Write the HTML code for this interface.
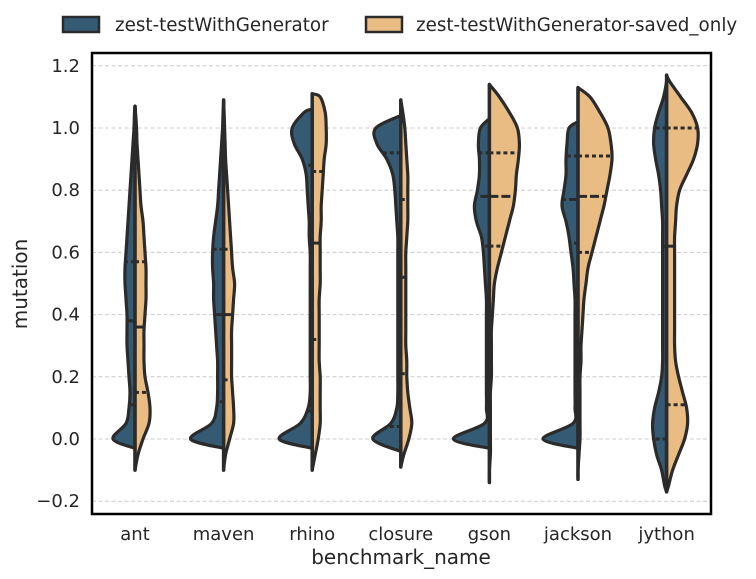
<!DOCTYPE html>
<html><head><meta charset="utf-8"><style>
body{margin:0;background:#fff;}
svg{display:block;font-family:"DejaVu Sans","Liberation Sans",sans-serif;}
</style></head><body>
<svg id="chart" width="756" height="579" viewBox="0 0 756 579">
<g id="grid"></g>
<g id="violins"></g>
<rect x="92" y="53" width="619" height="461" fill="none" stroke="#000" stroke-width="2.5"/>
<g id="yticks"></g>
<g id="xticks"></g>
<text x="401" y="564" font-size="20" fill="#262626" text-anchor="middle">benchmark_name</text>
<text transform="translate(27,284) rotate(-90)" font-size="20" fill="#262626" text-anchor="middle">mutation</text>
<g>
<g>
<rect x="63" y="17" width="36" height="15" fill="#345a74" stroke="#2b2b2b" stroke-width="2.5"/>
<text x="115" y="31" font-size="18.3" fill="#262626">zest-testWithGenerator</text>
</g>
<g>
<rect x="366" y="17" width="36" height="15" fill="#e9bc84" stroke="#2b2b2b" stroke-width="2.5"/>
<text x="416" y="31" font-size="18.3" fill="#262626">zest-testWithGenerator-saved_only</text>
</g>
</g>
</svg>
<script>
const categories = ["ant","maven","rhino","closure","gson","jackson","jython"];
const yTicks = [-0.2,0.0,0.2,0.4,0.6,0.8,1.0,1.2];
const yTickLabels = ["\u22120.2","0.0","0.2","0.4","0.6","0.8","1.0","1.2"];
// density grid values: -0.15 .. 1.15 step 0.05
const densityGrid = [-0.15,-0.10,-0.05,0,0.05,0.10,0.15,0.20,0.25,0.30,0.35,0.40,0.45,0.50,0.55,0.60,0.65,0.70,0.75,0.80,0.85,0.90,0.95,1.00,1.05,1.10,1.15];
const densityGenerator = [
 [0,0,0,22,9,6,5,6,7,8,8,8,9,10,10,9,8,7,6,5,4,3,2,1,0.5,0,0],
 [0,0,0,33,12,7,6,6,6,7,8,9,10,10,11,11,10,8,6,5,4,3,2,1,0.5,0,0],
 [0,0,0,33,12,4,2,2,2,2,2,2,2,2,2,2,3,3,4,5,6,10,18,20,8,0,0],
 [0,0,0,28,10,4,3,3,3,3,3,3,3,3,3,3,3,4,5,6,8,14,24,25,8,0,0],
 [0,0,1,36,5,3,3,3,3,3,3,3,3,4,5,6,8,13,15,12,10,10,11,9,0,0,0],
 [0,0,1,35,5,3,3,3,3,3,3,3,3,4,5,7,9,12,16,14,12,12,11,9,0,0,0],
 [2,5,10,13,14,12,8,5,4,4,4,4,4,4,4,4,4,4,5,6,8,11,13,12,8,3,0]
];
const densitySaved = [
 [0,1,3,8,14,15,13,10,9,9,9,10,11,11,11,10,9,8,6,5,4,3,2,1.5,0.5,0,0],
 [0,1,2,6,10,10,9,8,8,8,8,9,10,11,9,8,7,6,5,4,3,2,1.5,1,0.5,0,0],
 [0,1,3,6,8,8,8,8,7,7,7,7,7,8,8,8,8,9,9,10,11,12,14,14,13,8,0],
 [0,1,3,8,11,9,7,6,6,5,5,5,5,5,5,5,6,7,7,7,7,6,5,4,2,0,0],
 [0,0,1,1,1,1,1,2,2,2,2,3,4,5,8,12,16,20,24,26,27,29,30,28,20,10,2],
 [0,0,1,2,2,2,2,2,3,3,4,5,6,8,10,14,18,22,26,29,32,34,33,30,22,12,2],
 [2,6,12,18,21,20,16,12,9,8,8,8,8,8,8,8,8,9,10,13,20,27,31,31,25,14,3]
];
const minGenerator = [-0.03,-0.03,-0.03,-0.04,-0.03,-0.03,-0.17];
const maxGenerator = [1.07,1.09,1.06,1.04,1.03,1.02,1.17];
const minSaved = [-0.1,-0.1,-0.1,-0.09,-0.14,-0.13,-0.17];
const maxSaved = [1.07,1.09,1.11,1.09,1.14,1.13,1.17];
const quartGenerator = [[0.11,0.38,0.57],[0.12,0.40,0.61],[0.09,0.62,0.88],[0.04,0.67,0.92],[0.62,0.78,0.92],[0.63,0.77,0.91],[0.0,0.62,1.0]];
const quartSaved = [[0.15,0.36,0.57],[0.19,0.40,0.61],[0.32,0.63,0.86],[0.21,0.52,0.77],[0.62,0.78,0.92],[0.60,0.78,0.91],[0.11,0.62,1.0]];

const NS="http://www.w3.org/2000/svg";
const yS=v=>439-v*311;
const xS=i=>135+i*88.6;
const wScale=1.0;
function mk(tag,attrs,parent){const e=document.createElementNS(NS,tag);for(const k in attrs)e.setAttribute(k,attrs[k]);parent.appendChild(e);return e;}
function widthAt(arr,v){
  if(v<=densityGrid[0])return arr[0];
  for(let i=0;i<densityGrid.length-1;i++){
    if(v>=densityGrid[i]&&v<=densityGrid[i+1]){const t=(v-densityGrid[i])/(densityGrid[i+1]-densityGrid[i]);return arr[i]*(1-t)+arr[i+1]*t;}
  }
  return arr[arr.length-1];
}
function smoothPath(pts){
  let d=`M${pts[0][0]},${pts[0][1]}`;
  for(let i=0;i<pts.length-1;i++){
    const p0=pts[Math.max(0,i-1)],p1=pts[i],p2=pts[i+1],p3=pts[Math.min(pts.length-1,i+2)];
    const c1=[p1[0]+(p2[0]-p0[0])/6,p1[1]+(p2[1]-p0[1])/6];
    const c2=[p2[0]-(p3[0]-p1[0])/6,p2[1]-(p3[1]-p1[1])/6];
    d+=` C${c1[0].toFixed(1)},${c1[1].toFixed(1)} ${c2[0].toFixed(1)},${c2[1].toFixed(1)} ${p2[0].toFixed(1)},${p2[1].toFixed(1)}`;
  }
  return d;
}
const grid=document.getElementById('grid'),yt=document.getElementById('yticks'),xt=document.getElementById('xticks');
yTicks.forEach((v,i)=>{
  const l=mk('line',{x1:92,x2:711,y1:yS(v),y2:yS(v),stroke:'#cccccc','stroke-width':1,'stroke-dasharray':'4,2.5'},grid);
  
  
  const t=mk('text',{x:80,y:yS(v)+6,'font-size':18,fill:'#262626','text-anchor':'end'},yt);
  
  
  t.textContent=yTickLabels[i];
});
categories.forEach((c,i)=>{
  const t=mk('text',{x:xS(i),y:540,'font-size':18,fill:'#262626','text-anchor':'middle'},xt);
  
  
  t.textContent=c;
});
const vg=document.getElementById('violins');
function half(i,dens,mn,mx,sign,fill,quarts,name){
  const cx=xS(i);
  const pts=[[cx,yS(mn)]];
  densityGrid.forEach((v,k)=>{if(v>mn&&v<mx)pts.push([cx+sign*dens[k]*wScale,yS(v)]);});
  pts.push([cx,yS(mx)]);
  const p=mk('path',{d:smoothPath(pts)+' Z',fill:fill,stroke:'#2b2b2b','stroke-width':3.2,'stroke-linejoin':'round'},vg);
  
  
  quarts.forEach((q,k)=>{
    const w=widthAt(dens,q)*wScale;
    const l=mk('line',{x1:cx,x2:cx+sign*w,y1:yS(q),y2:yS(q),stroke:'#2b2b2b','stroke-width':3,'stroke-dasharray':k===1?'9,3':'4,3'},vg);
    
    
  });
}
categories.forEach((c,i)=>{
  half(i,densityGenerator[i],minGenerator[i],maxGenerator[i],-1,'#345a74',quartGenerator[i],'violin-generator-'+c);
  half(i,densitySaved[i],minSaved[i],maxSaved[i],1,'#e9bc84',quartSaved[i],'violin-saved-only-'+c);
  const l=mk('line',{x1:xS(i),x2:xS(i),y1:yS(Math.min(minGenerator[i],minSaved[i])),y2:yS(Math.max(maxGenerator[i],maxSaved[i])),stroke:'#2b2b2b','stroke-width':3.5,'stroke-linecap':'round'},vg);
  
  
});
</script>
</body></html>
